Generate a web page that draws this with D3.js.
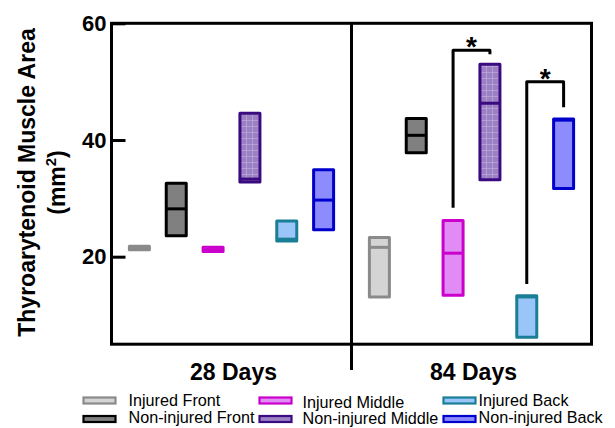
<!DOCTYPE html>
<html>
<head>
<meta charset="utf-8">
<script src="https://cdn.jsdelivr.net/npm/d3@7"></script>
<style>
  body { margin: 0; background: #fff; }
  svg { font-family: "Liberation Sans", Arial, sans-serif; }
</style>
</head>
<body>
<svg width="615" height="428"></svg>
<script>
// groups and series
var days = ["28 Days", "84 Days"];
var series = ["Injured Front", "Non-injured Front", "Injured Middle",
  "Non-injured Middle", "Injured Back", "Non-injured Back"];

// floating bars: min, max, median (mm2)
var low28 = [21.2, 23.6, 20.9, 32.8, 22.7, 24.6];
var high28 = [21.8, 32.6, 21.6, 44.6, 26.1, 34.9];
var median28 = [21.5, 28.2, 21.2, 33.3, 23.0, 29.7];
var low84 = [13.1, 37.8, 13.4, 33.2, 6.2, 31.7];
var high84 = [23.3, 43.7, 26.2, 53.0, 13.3, 43.6];
var median84 = [21.6, 40.8, 20.6, 46.3, 13.1, 43.4];

// significance brackets at 84 days: [from series, to series, left foot, top, right foot]
var brackets = [
  [2, 3, 28.4, 55.4, 54.7],
  [4, 5, 15.3, 50.0, 45.6]
];

var yTicks = [20, 40, 60];

var strokeColors = ["#8a8a8a", "#000000", "#cc00cc", "#3a0a80", "#1a7e96", "#0000cc"];
var fillColors = ["#d4d4d4", "#808080", "#e08cf4", "#9b80c4", "#99c5f8", "#8c8cff"];

var svg = d3.select("svg");
var defs = svg.append("defs");

// light grid used on the non-injured middle bars
var pat = defs.append("pattern")
  .attr("id", "grid")
  .attr("patternUnits", "userSpaceOnUse")
  .attr("width", 6).attr("height", 6);
pat.append("rect").attr("width", 6).attr("height", 6).attr("fill", fillColors[3]);
pat.append("path").attr("d", "M0,0.5H6M0.5,0V6")
  .attr("stroke", "#c2b2dc").attr("stroke-width", 0.6);

var plotLeft = 111.5, plotRight = 591.5, plotTop = 23.3, plotBottom = 344.2;

var y = d3.scaleLinear().domain([5, 60]).range([plotBottom, plotTop]);
var x0 = d3.scaleBand().domain(days).range([plotLeft, plotRight]);
var x1 = d3.scalePoint().domain(d3.range(series.length))
  .range([0, x0.bandwidth()]).padding(0.757);

var rows = [];
days.forEach(function(day, gi) {
  var lo = gi === 0 ? low28 : low84,
    hi = gi === 0 ? high28 : high84,
    md = gi === 0 ? median28 : median84;
  series.forEach(function(s, si) {
    rows.push({ day: day, si: si, low: lo[si], high: hi[si], median: md[si] });
  });
});

function cx(d) { return x0(d.day) + x1(d.si); }
var barW = 20;

// frame
svg.append("rect")
  .attr("x", plotLeft).attr("y", plotTop)
  .attr("width", plotRight - plotLeft).attr("height", plotBottom - plotTop)
  .attr("fill", "none").attr("stroke", "#000").attr("stroke-width", 3);

// divider between days, running below the axis
svg.append("line")
  .attr("x1", x0("84 Days")).attr("x2", x0("84 Days"))
  .attr("y1", plotTop).attr("y2", 370)
  .attr("stroke", "#000").attr("stroke-width", 3);

// y axis
var yAxis = svg.append("g")
  .attr("transform", "translate(" + plotLeft + ",0)")
  .call(d3.axisLeft(y).tickValues(yTicks).tickSize(-14).tickPadding(5));
yAxis.select(".domain").remove();
yAxis.selectAll("line").attr("stroke-width", 3);
yAxis.selectAll("text")
  .attr("font-size", 22).attr("font-weight", "bold")
  .attr("font-family", "Liberation Sans, Arial, sans-serif")
  .attr("fill", "#000");

// y label
var yl = svg.append("text")
  .attr("transform", "translate(35,182.5) rotate(-90)")
  .attr("text-anchor", "middle")
  .attr("font-size", 23).attr("font-weight", "bold");
yl.append("tspan").attr("x", 0).attr("y", 0).text("Thyroarytenoid Muscle Area");
yl.append("tspan").attr("x", 0).attr("y", 30).text("(mm");
yl.append("tspan").attr("dy", -9).attr("font-size", 15).text("2");
yl.append("tspan").attr("dy", 9).text(")");

// day labels
svg.selectAll(".day")
  .data(days)
  .enter().append("text")
  .attr("class", "day")
  .attr("x", function(d) { return x0(d) + x0.bandwidth() / 2 + 2; })
  .attr("y", 380)
  .attr("text-anchor", "middle")
  .attr("font-size", 23).attr("font-weight", "bold")
  .text(function(d) { return d; });

// bars
var bars = svg.selectAll(".bar")
  .data(rows)
  .enter().append("g")
  .attr("class", "bar");

bars.append("rect")
  .attr("x", function(d) { return cx(d) - barW / 2; })
  .attr("y", function(d) { return y(d.high); })
  .attr("width", barW)
  .attr("height", function(d) { return y(d.low) - y(d.high); })
  .attr("fill", function(d) { return d.si === 3 ? "url(#grid)" : fillColors[d.si]; })
  .attr("stroke", function(d) { return strokeColors[d.si]; })
  .attr("stroke-width", 3)
  .attr("stroke-linejoin", "round");

bars.append("line")
  .attr("x1", function(d) { return cx(d) - barW / 2; })
  .attr("x2", function(d) { return cx(d) + barW / 2; })
  .attr("y1", function(d) { return y(d.median); })
  .attr("y2", function(d) { return y(d.median); })
  .attr("stroke", function(d) { return strokeColors[d.si]; })
  .attr("stroke-width", 3);

// brackets
var bk = svg.selectAll(".bracket")
  .data(brackets)
  .enter().append("g")
  .attr("class", "bracket");

bk.append("path")
  .attr("d", function(b) {
    var xa = x0("84 Days") + x1(b[0]), xb = x0("84 Days") + x1(b[1]);
    return "M" + xa + "," + y(b[2]) + "V" + y(b[3]) + "H" + xb + "V" + y(b[4]);
  })
  .attr("fill", "none").attr("stroke", "#000").attr("stroke-width", 3)
  .attr("stroke-linejoin", "round");

bk.append("text")
  .attr("x", function(b) { return x0("84 Days") + (x1(b[0]) + x1(b[1])) / 2; })
  .attr("y", function(b) { return y(b[3]) + 6; })
  .attr("text-anchor", "middle")
  .attr("font-size", 28).attr("font-weight", "bold")
  .text("*");

// legend: three columns, injured on top row
var colSwatchX = [83.5, 259.5, 443.5];
var colTextX = [128.5, 302.5, 478.5];
var rowSwatchY = [400.5, 419];
var rowTextY = [[405.7, 423.2], [407.5, 424.4], [405.7, 423.4]];

var leg = svg.selectAll(".leg")
  .data(series)
  .enter().append("g")
  .attr("class", "leg");

leg.append("rect")
  .attr("x", function(d, i) { return colSwatchX[Math.floor(i / 2)]; })
  .attr("y", function(d, i) { return rowSwatchY[i % 2] - 3; })
  .attr("width", 32).attr("height", 6)
  .attr("fill", function(d, i) { return fillColors[i]; })
  .attr("stroke", function(d, i) { return strokeColors[i]; })
  .attr("stroke-width", 2.2);

leg.append("text")
  .attr("x", function(d, i) { return colTextX[Math.floor(i / 2)]; })
  .attr("y", function(d, i) { return rowTextY[Math.floor(i / 2)][i % 2]; })
  .attr("font-size", 16.2)
  .text(function(d) { return d; });
</script>
</body>
</html>
